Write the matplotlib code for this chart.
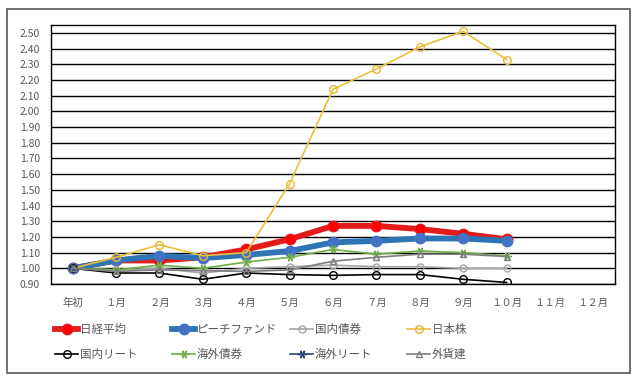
import numpy as np
import matplotlib
matplotlib.use("Agg")
import matplotlib.pyplot as plt
from matplotlib.patches import Rectangle

plt.rcParams['font.family'] = ['Noto Sans CJK JP', 'DejaVu Sans']

months = ["年初", "１月", "２月", "３月", "４月", "５月", "６月", "７月", "８月", "９月", "１０月", "１１月", "１２月"]
nan = np.nan
nikkei   = [1.00, 1.05, 1.05, 1.07, 1.12, 1.185, 1.27, 1.27, 1.25, 1.22, 1.185]
peach    = [1.00, 1.05, 1.08, 1.065, 1.085, 1.11, 1.165, 1.175, 1.19, 1.19, 1.175]
kokunai_saiken = [1.00, 0.99, 1.00, 0.97, 1.00, 1.01, 1.02, 1.01, 1.01, 1.00, 1.00]
nihon_kabu = [1.00, 1.07, 1.15, 1.08, 1.10, 1.54, 2.14, 2.27, 2.41, 2.51, 2.33]
kokunai_reit = [1.00, 0.97, 0.97, 0.93, 0.97, 0.96, 0.955, 0.96, 0.96, 0.93, 0.91]
kaigai_saiken = [1.00, 0.99, 1.02, 1.00, 1.04, 1.07, 1.12, 1.09, 1.11, 1.10, 1.08]
kaigai_reit = [1.00, nan, nan, nan, nan, nan, nan, nan, nan, nan, nan]
gaika = [1.00, 0.98, 0.99, 0.985, 0.98, 0.99, 1.045, 1.07, 1.09, 1.09, 1.075]

series = [
    ("日経平均", nikkei, dict(color="#E31B1B", lw=4.2, marker="o", ms=7.5, mfc="#FF0000", mec="#E31B1B")),
    ("ピーチファンド", peach, dict(color="#2E75B6", lw=4.2, marker="o", ms=7.5, mfc="#4472C4", mec="#4472C4")),
    ("国内債券", kokunai_saiken, dict(color="#A5A5A5", lw=1.2, marker="o", ms=5, mfc="none", mec="#A5A5A5")),
    ("日本株", nihon_kabu, dict(color="#EBC03A", lw=1.2, marker="o", ms=5.5, mfc="none", mec="#E6B82E")),
    ("国内リート", kokunai_reit, dict(color="#000000", lw=1.2, marker="o", ms=5.5, mfc="none", mec="#000000")),
    ("海外債券", kaigai_saiken, dict(color="#70AD47", lw=1.2, marker=(6, 2, 90), ms=6, mec="#70AD47")),
    ("海外リート", kaigai_reit, dict(color="#264478", lw=1.2, marker=(6, 2, 90), ms=6, mec="#264478")),
    ("外貨建", gaika, dict(color="#7F7F7F", lw=1.2, marker="^", ms=5, mfc="none", mec="#7F7F7F")),
]

fig = plt.figure(figsize=(6.4, 3.84), dpi=100)
fig.patches.append(Rectangle((7/640, 1-373/384), 623/640, 364/384, transform=fig.transFigure,
                             fill=False, ec="#595959", lw=1.2))
ax = fig.add_axes([51/640, 1-284/384, 564/640, 259/384])

x = np.arange(len(months))
handles = []
for i, (name, vals, st) in enumerate(series):
    h, = ax.plot(x[:len(vals)], vals, label=name, zorder=3+i, **st)
    handles.append(h)

ax.set_xlim(-0.5, len(months)-0.5)
ax.set_ylim(0.9, 2.55)
ax.set_yticks(np.arange(0.9, 2.51, 0.1))
ax.set_yticklabels([f"{v:.2f}" for v in np.arange(0.9, 2.51, 0.1)])
ax.set_xticks(x)
ax.set_xticklabels(months)
ax.grid(axis="y", color="black", lw=1.0)
ax.set_axisbelow(True)
for s in ax.spines.values():
    s.set_color("black")
    s.set_linewidth(1.0)
ax.tick_params(length=0, labelsize=7.5, labelcolor="#595959")
ax.tick_params(axis="x", pad=10)
ax.tick_params(axis="y", pad=8)

col_x = [55, 172, 290, 407]
for c in range(4):
    hs = [handles[c], handles[c+4]]
    fig.legend(hs, [h.get_label() for h in hs], loc="upper left",
               bbox_to_anchor=(col_x[c]/640, 1-323/384), frameon=False,
               fontsize=8.3, borderpad=0, borderaxespad=0, handlelength=2.0,
               handletextpad=0.15, labelspacing=1.05, labelcolor="#595959")

fig.savefig("out.png", dpi=100)
